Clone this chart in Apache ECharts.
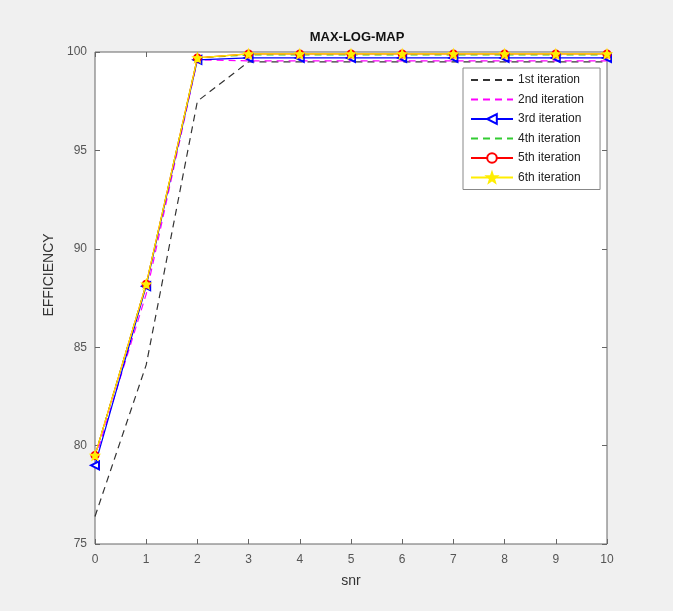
<!DOCTYPE html>
<html>
<head>
<meta charset="utf-8">
<script src="https://cdn.jsdelivr.net/npm/echarts@6/dist/echarts.min.js"></script>
<style>
  html, body { margin: 0; padding: 0; background: #f0f0f0; }
  #chart { width: 673px; height: 611px; }
</style>
</head>
<body>
<div id="chart"></div>
<script>
const snr = [0, 1, 2, 3, 4, 5, 6, 7, 8, 9, 10]
const iter1 = [76.4, 84.1, 97.5, 99.5, 99.5, 99.5, 99.5, 99.5, 99.5, 99.5, 99.5]
const iter2 = [79.3, 87.7, 99.6, 99.55, 99.55, 99.55, 99.55, 99.55, 99.55, 99.55, 99.55]
const iter3 = [79.0, 88.1, 99.6, 99.7, 99.7, 99.7, 99.7, 99.7, 99.7, 99.7, 99.7]
const iter4 = [79.5, 88.2, 99.7, 99.85, 99.85, 99.85, 99.85, 99.85, 99.85, 99.85, 99.85]
const iter5 = [79.5, 88.2, 99.7, 99.9, 99.9, 99.9, 99.9, 99.9, 99.9, 99.9, 99.9]
const iter6 = [79.5, 88.2, 99.7, 99.9, 99.9, 99.9, 99.9, 99.9, 99.9, 99.9, 99.9]
const seriesNames = ['1st iteration', '2nd iteration', '3rd iteration', '4th iteration', '5th iteration', '6th iteration']

const chart = echarts.init(document.getElementById('chart'))

const font = 'Liberation Sans, Arial, sans-serif'
const star = 'path://M0,-10L2.4,-3.1L9.5,-3.1L3.8,1.2L5.9,8.1L0,4L-5.9,8.1L-3.8,1.2L-9.5,-3.1L-2.4,-3.1Z'

const mk = (name, data, color, type, symbol, size) => ({
  name,
  type: 'line',
  data: snr.map((x, i) => [x, data[i]]),
  symbol: symbol || 'none',
  symbolSize: size || 7,
  showSymbol: !!symbol,
  symbolRotate: symbol === 'emptyTriangle' ? 90 : 0,
  lineStyle: { color, width: 1.2, type: type },
  itemStyle: { color, borderColor: color, borderWidth: 1.2 },
  emphasis: { disabled: true },
  animation: false
})

// legend items: hide the marker for the plain dashed lines
const noMarker = { opacity: 0 }
const legendData = seriesNames.map((n, i) => ([0, 1, 3].includes(i) ? { name: n, itemStyle: noMarker } : { name: n }))

// MATLAB style box: ticks pointing inward on all four sides
const tick = { inside: true, length: 5, lineStyle: { color: '#666' } }

const options = {
  backgroundColor: '#f0f0f0',
  title: {
    text: 'MAX-LOG-MAP',
    left: 352,
    textAlign: 'center',
    top: 26,
    textStyle: { fontFamily: font, fontSize: 13, fontWeight: 'bold', color: '#111' }
  },
  grid: {
    left: 95, right: 66, top: 52, bottom: 67,
    show: true, backgroundColor: '#fff', borderColor: '#666', borderWidth: 1
  },
  legend: {
    orient: 'vertical',
    left: 463,
    top: 68,
    itemWidth: 42,
    itemHeight: 12,
    itemGap: 7.5,
    padding: [6, 16, 6, 7],
    backgroundColor: '#fff',
    borderColor: '#888',
    borderWidth: 1,
    borderRadius: 0,
    data: legendData,
    textStyle: { fontFamily: font, fontSize: 12, color: '#222' }
  },
  xAxis: [
    {
      type: 'value', min: 0, max: 10, interval: 1,
      name: 'snr', nameLocation: 'middle', nameGap: 30,
      nameTextStyle: { fontFamily: font, fontSize: 14, color: '#333' },
      axisLine: { show: false, onZero: false },
      axisTick: tick,
      axisLabel: { fontFamily: font, fontSize: 12, color: '#555', margin: 10 },
      splitLine: { show: false }
    },
    {
      type: 'value', min: 0, max: 10, interval: 1, position: 'top',
      axisLine: { show: false, onZero: false },
      axisTick: tick,
      axisLabel: { show: false },
      splitLine: { show: false }
    }
  ],
  yAxis: [
    {
      type: 'value', min: 75, max: 100, interval: 5,
      name: 'EFFICIENCY', nameLocation: 'middle', nameGap: 36,
      nameTextStyle: { fontFamily: font, fontSize: 14, color: '#333', padding: [0, 0, 0, 46] },
      axisLine: { show: false, onZero: false },
      axisTick: tick,
      axisLabel: { fontFamily: font, fontSize: 12, color: '#555', margin: 8 },
      splitLine: { show: false }
    },
    {
      type: 'value', min: 75, max: 100, interval: 5, position: 'right',
      axisLine: { show: false, onZero: false },
      axisTick: tick,
      axisLabel: { show: false },
      splitLine: { show: false }
    }
  ],
  series: [
    mk(seriesNames[0], iter1, '#333333', [7, 5]),
    mk(seriesNames[1], iter2, '#ff00ff', [7, 5]),
    mk(seriesNames[2], iter3, '#0000ff', 'solid', 'emptyTriangle', 8),
    mk(seriesNames[3], iter4, '#33cc33', [7, 5]),
    mk(seriesNames[4], iter5, '#ff0000', 'solid', 'emptyCircle', 7),
    mk(seriesNames[5], iter6, '#ffee00', 'solid', star, 9)
  ]
}

chart.setOption(options)
</script>
</body>
</html>
